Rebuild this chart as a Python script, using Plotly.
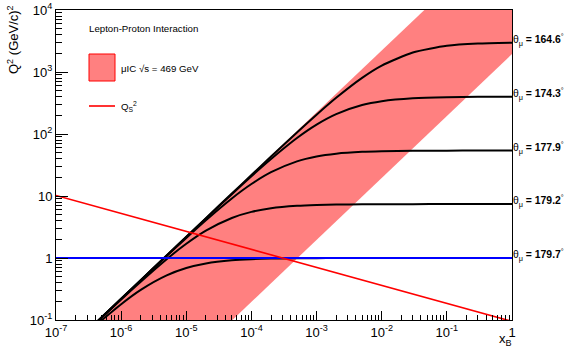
import math
import plotly.graph_objects as go

# ---------------- data ----------------
# kinematic band of the muIC (sqrt(s)=469 GeV) : polygon vertices
band_x = [4.4e-7, 1.0, 1.0, 5.1e-5]
band_q2 = [0.1, 2.2e5, 1950.0, 0.1]

# curves of constant muon scattering angle
curve_x = [4e-7, 1e-6, 2e-6, 5e-6, 1e-5, 2e-5, 5e-5, 1e-4, 2e-4, 5e-4,
           1e-3, 2e-3, 5e-3, 1e-2, 3e-2, 1e-1, 3e-1, 1.0]
theta_1646 = [0.088, 0.22, 0.44, 1.1, 2.2, 4.39, 10.96, 21.8, 43.4, 106.1,
              205, 383.7, 805, 1269, 2063, 2640, 2870, 2960]
theta_1743 = [0.088, 0.22, 0.44, 1.097, 2.19, 4.35, 10.7, 20.9, 39.6, 86.3,
              141.9, 209.5, 293.3, 338.5, 377.1, 392.9, 397.6, 399.3]
theta_1779 = [0.088, 0.219, 0.436, 1.078, 2.11, 4.07, 9.14, 15.6, 24.2, 36.2,
              43.4, 48.1, 51.5, 52.7, 53.6, 53.9, 53.96, 54.0]
theta_1792 = [0.087, 0.214, 0.415, 0.958, 1.696, 2.76, 4.42, 5.54, 6.34, 6.93,
              7.16, 7.28, 7.35, 7.375, 7.39, 7.398, 7.399, 7.4]
theta_1797 = [0.081, 0.180, 0.306, 0.524, 0.688, 0.815, 0.917, 0.957, 0.978, 0.991,
              0.995, 0.998, 0.999, 1.0, 1.0, 1.0, 1.0, 1.0]
theta_curves = [theta_1646, theta_1743, theta_1779, theta_1792, theta_1797]
theta_labels = ["164.6", "174.3", "177.9", "179.2", "179.7"]
theta_label_q2 = [2960, 399.3, 54.0, 7.4, 1.0]

# saturation scale Q_s^2
qs_x = [1e-7, 1.0]
qs_q2 = [10.2, 0.095]

# Q^2 = 1 reference line
blue_x = [1e-7, 1.0]
blue_q2 = [1.0, 1.0]

# axis ticks
x_tickvals = [1e-7, 1e-6, 1e-5, 1e-4, 1e-3, 1e-2, 1e-1, 1]
x_ticktext = ["10<sup>-7</sup>", "10<sup>-6</sup>", "10<sup>-5</sup>", "10<sup>-4</sup>",
              "10<sup>-3</sup>", "10<sup>-2</sup>", "10<sup>-1</sup>", "1"]
y_tickvals = [0.1, 1, 10, 100, 1000, 10000]
y_ticktext = ["10<sup>-1</sup>", "1", "10", "10<sup>2</sup>", "10<sup>3</sup>", "10<sup>4</sup>"]

x_minor = [d * 10.0 ** k for k in range(-7, 0) for d in range(2, 10)]
y_minor = [d * 10.0 ** k for k in range(-1, 4) for d in range(2, 10)]

# ---------------- layout geometry ----------------
W, H = 569, 348
L, R, T, B = 56, 57, 10, 28
PW, PH = W - L - R, H - T - B


def px(x):
    """page pixel x -> paper coordinate"""
    return (x - L) / PW


def py(y):
    """page pixel y -> paper coordinate"""
    return (H - B - y) / PH


FONT = "Liberation Sans, Arial, Helvetica, sans-serif"
BAND_COLOR = "rgb(255,128,128)"

fig = go.Figure()

fig.add_trace(go.Scatter(x=band_x, y=band_q2, mode="lines", fill="toself",
                         fillcolor=BAND_COLOR, line=dict(width=0, color=BAND_COLOR),
                         hoverinfo="skip", showlegend=False))

for ys in theta_curves:
    fig.add_trace(go.Scatter(x=curve_x, y=ys, mode="lines",
                             line=dict(color="black", width=2, shape="spline", smoothing=0.6),
                             showlegend=False))

fig.add_trace(go.Scatter(x=blue_x, y=blue_q2, mode="lines",
                         line=dict(color="rgb(0,0,255)", width=2), showlegend=False))
fig.add_trace(go.Scatter(x=qs_x, y=qs_q2, mode="lines",
                         line=dict(color="rgb(255,0,0)", width=1.6), showlegend=False))

annotations = []
# theta labels on the right (log axes: annotation coords are log10 values)
for lab, q in zip(theta_labels, theta_label_q2):
    annotations.append(dict(
        x=1.0, y=math.log10(q), xref="paper", yref="y", xanchor="left", yanchor="middle",
        xshift=-1, yshift=3,
        text="θ<sub>μ</sub><b> = %s</b><sup>°</sup>" % lab,
        showarrow=False, font=dict(family=FONT, size=10.4, color="black")))

# legend
annotations.append(dict(x=px(87), y=py(28), xref="paper", yref="paper",
                        xanchor="left", yanchor="middle", showarrow=False,
                        text="Lepton-Proton Interaction",
                        font=dict(family=FONT, size=9.7, color="black")))
annotations.append(dict(x=px(119), y=py(68), xref="paper", yref="paper",
                        xanchor="left", yanchor="middle", showarrow=False,
                        text="μIC √s = 469 GeV",
                        font=dict(family=FONT, size=9.7, color="black")))
annotations.append(dict(x=px(119), y=py(106), xref="paper", yref="paper",
                        xanchor="left", yanchor="middle", showarrow=False,
                        text="Q<sub>S</sub><sup>2</sup>",
                        font=dict(family=FONT, size=9.7, color="black")))

# axis titles
annotations.append(dict(x=px(13), y=py(40), xref="paper", yref="paper",
                        xanchor="center", yanchor="middle", showarrow=False,
                        textangle=-90, text="Q<sup>2</sup> (GeV/c)<sup>2</sup>",
                        font=dict(family=FONT, size=13, color="black")))
annotations.append(dict(x=px(505), y=py(339), xref="paper", yref="paper",
                        xanchor="center", yanchor="middle", showarrow=False,
                        text="x<sub>B</sub>",
                        font=dict(family=FONT, size=13, color="black")))

shapes = [
    dict(type="rect", xref="paper", yref="paper",
         x0=px(89), x1=px(115), y0=py(81), y1=py(54),
         fillcolor=BAND_COLOR, line=dict(color="rgb(255,0,0)", width=1)),
    dict(type="line", xref="paper", yref="paper",
         x0=px(89), x1=px(115), y0=py(106), y1=py(106),
         line=dict(color="rgb(255,0,0)", width=1.6)),
]

fig.update_layout(
    width=W, height=H,
    margin=dict(l=L, r=R, t=T, b=B, pad=0),
    paper_bgcolor="white", plot_bgcolor="white",
    font=dict(family=FONT, size=13, color="black"),
    showlegend=False,
    annotations=annotations,
    shapes=shapes,
    xaxis=dict(type="log", range=[-7, 0], showgrid=False, zeroline=False,
               showline=True, linecolor="black", linewidth=1, mirror=True,
               ticks="inside", ticklen=9, tickwidth=1, tickcolor="black",
               tickmode="array", tickvals=x_tickvals, ticktext=x_ticktext,
               tickfont=dict(family=FONT, size=13, color="black"),
               automargin=False,
               minor=dict(tickmode="array", tickvals=x_minor, ticks="inside",
                          ticklen=5, tickwidth=1, tickcolor="black", showgrid=False)),
    yaxis=dict(type="log", range=[-1, 4], showgrid=False, zeroline=False,
               showline=True, linecolor="black", linewidth=1, mirror=True,
               ticks="inside", ticklen=12, tickwidth=1, tickcolor="black",
               tickmode="array", tickvals=y_tickvals, ticktext=y_ticktext,
               tickfont=dict(family=FONT, size=13, color="black"),
               automargin=False,
               minor=dict(tickmode="array", tickvals=y_minor, ticks="inside",
                          ticklen=6, tickwidth=1, tickcolor="black", showgrid=False)),
)

# remove the browser's default 8px body margin so the figure sits at (0, 0)
fig.write_html("out.html",
               config={"displayModeBar": False, "staticPlot": True},
               post_script="document.body.style.margin='0px';document.body.style.overflow='hidden';")
